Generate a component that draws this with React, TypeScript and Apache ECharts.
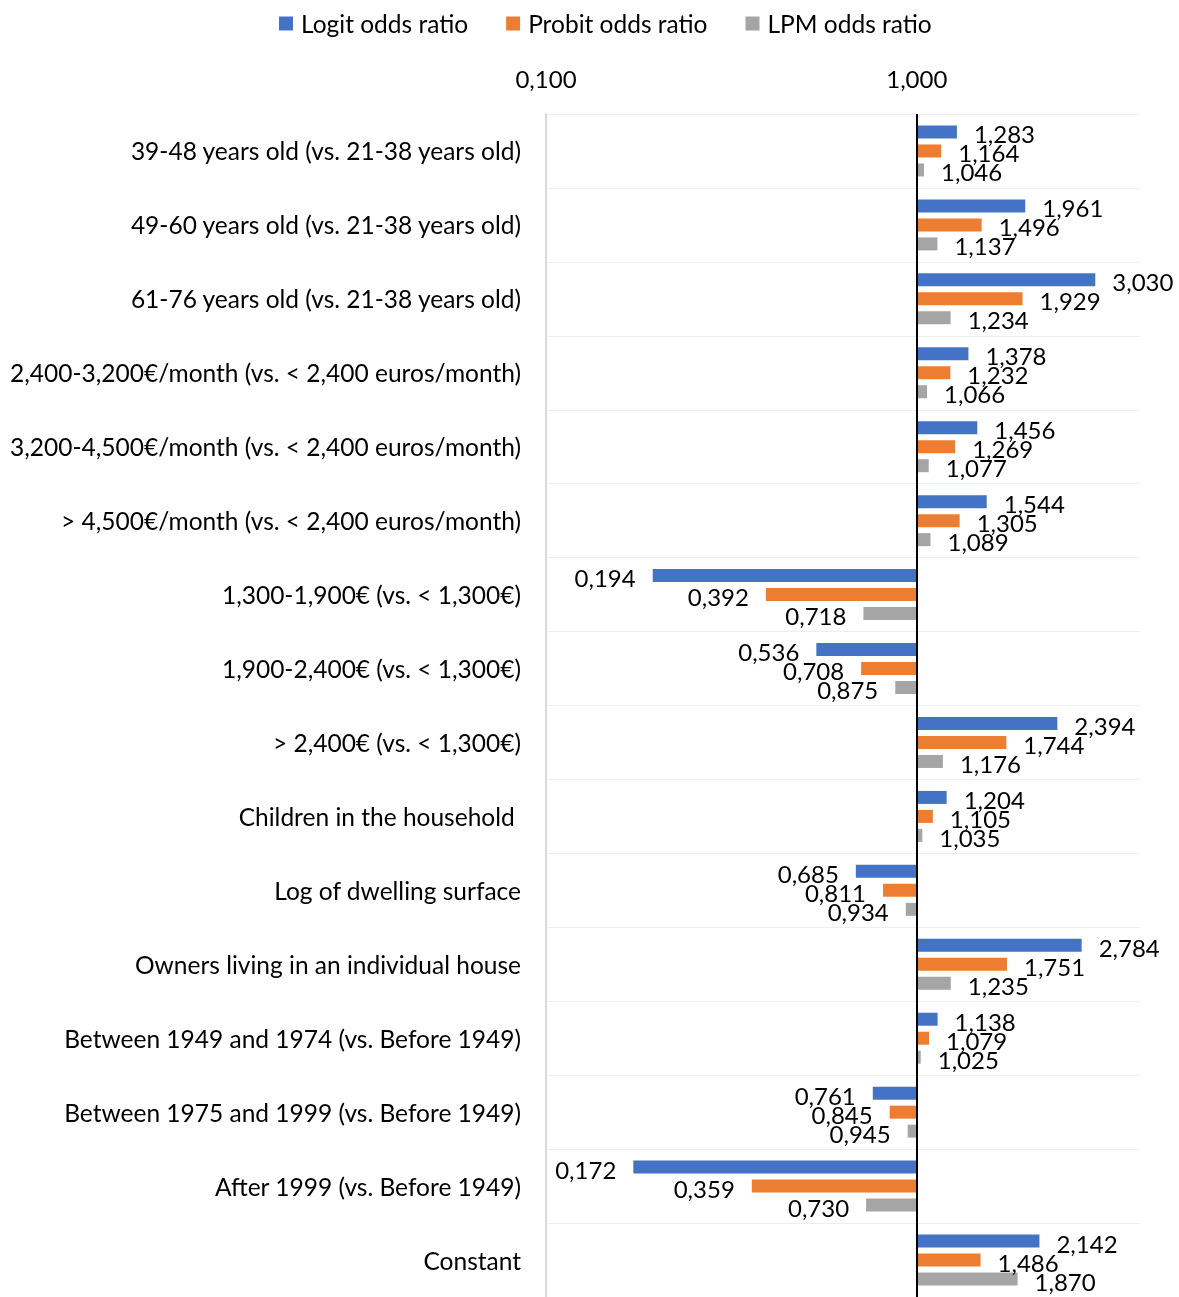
import React, { useEffect, useRef } from "react";
import * as echarts from "echarts";

const categories = [
  "39-48 years old (vs. 21-38 years old)",
  "49-60 years old (vs. 21-38 years old)",
  "61-76 years old (vs. 21-38 years old)",
  "2,400-3,200€/month (vs. < 2,400 euros/month)",
  "3,200-4,500€/month (vs. < 2,400 euros/month)",
  "> 4,500€/month (vs. < 2,400 euros/month)",
  "1,300-1,900€ (vs. < 1,300€)",
  "1,900-2,400€ (vs. < 1,300€)",
  "> 2,400€ (vs. < 1,300€)",
  "Children in the household ",
  "Log of dwelling surface",
  "Owners living in an individual house",
  "Between 1949 and 1974 (vs. Before 1949)",
  "Between 1975 and 1999 (vs. Before 1949)",
  "After 1999 (vs. Before 1949)",
  "Constant",
];

const logitValues = [1.283, 1.961, 3.03, 1.378, 1.456, 1.544, 0.194, 0.536, 2.394, 1.204, 0.685, 2.784, 1.138, 0.761, 0.172, 2.142];
const probitValues = [1.164, 1.496, 1.929, 1.232, 1.269, 1.305, 0.392, 0.708, 1.744, 1.105, 0.811, 1.751, 1.079, 0.845, 0.359, 1.486];
const lpmValues = [1.046, 1.137, 1.234, 1.066, 1.077, 1.089, 0.718, 0.875, 1.176, 1.035, 0.934, 1.235, 1.025, 0.945, 0.73, 1.87];

const seriesNames = ["Logit odds ratio", "Probit odds ratio", "LPM odds ratio"];
const seriesColors = ["#4472C4", "#ED7D31", "#A5A5A5"];
const axisMin = 0.1;
const axisMax = 4;

const FONT = 'Lato, "Open Sans", sans-serif';

const fmt = (v: number) => v.toFixed(3).replace(".", ",");

export default function App() {
  const ref = useRef<HTMLDivElement>(null);
  useEffect(() => {
    if (!ref.current) return;
    const chart = echarts.init(ref.current, undefined, { renderer: "svg" });
    const allValues = [logitValues, probitValues, lpmValues];
    const series: any[] = allValues.map((vals, i) => ({
      name: seriesNames[i],
      type: "bar",
      barWidth: 13,
      barGap: "46%",
      itemStyle: { color: seriesColors[i] },
      data: vals.map((v) => ({
        value: v,
        label: { position: v >= 1 ? "right" : "left" },
      })),
      label: {
        show: true,
        distance: 17,
        offset: [0, 2],
        formatter: (p: any) => fmt(p.value),
        fontSize: 24,
        color: "#000",
        fontFamily: FONT,
      },
    }));
    series[0].markLine = {
      silent: true,
      symbol: "none",
      label: { show: false },
      lineStyle: { color: "#000", width: 2, type: "solid" },
      data: [{ xAxis: 1 }],
    };
    chart.setOption({
      animation: false,
      textStyle: { fontFamily: FONT },
      legend: {
        top: 6,
        left: 274,
        icon: "rect",
        itemWidth: 14,
        itemHeight: 14,
        itemGap: 38,
        textStyle: { fontSize: 24.5, color: "#000", fontFamily: FONT, padding: [0, 0, 0, 3] },
        data: seriesNames,
      },
      grid: { left: 546, right: 39, top: 114, height: 1184, containLabel: false },
      xAxis: {
        type: "log",
        logBase: 10,
        position: "top",
        min: axisMin,
        max: axisMax,
        axisLine: { show: false },
        axisTick: { show: false },
        splitLine: { show: false },
        axisLabel: {
          margin: 24,
          fontSize: 24,
          color: "#000",
          fontFamily: FONT,
          formatter: (v: number) => {
            const l = Math.log10(v);
            return Math.abs(l - Math.round(l)) < 1e-6 ? fmt(v) : "";
          },
        },
      },
      yAxis: {
        type: "category",
        inverse: true,
        data: categories,
        axisLine: { show: true, onZero: false, lineStyle: { color: "#d9d9d9", width: 2 } },
        axisTick: { show: false },
        splitLine: { show: true, lineStyle: { color: "#eeeeee", width: 1 } },
        axisLabel: { margin: 25, fontSize: 24.5, color: "#000", fontFamily: FONT },
      },
      series,
    });
    return () => chart.dispose();
  }, []);
  return (
    <div
      ref={ref}
      style={{ position: "fixed", left: 0, top: 0, width: 1179, height: 1297 }}
    />
  );
}
